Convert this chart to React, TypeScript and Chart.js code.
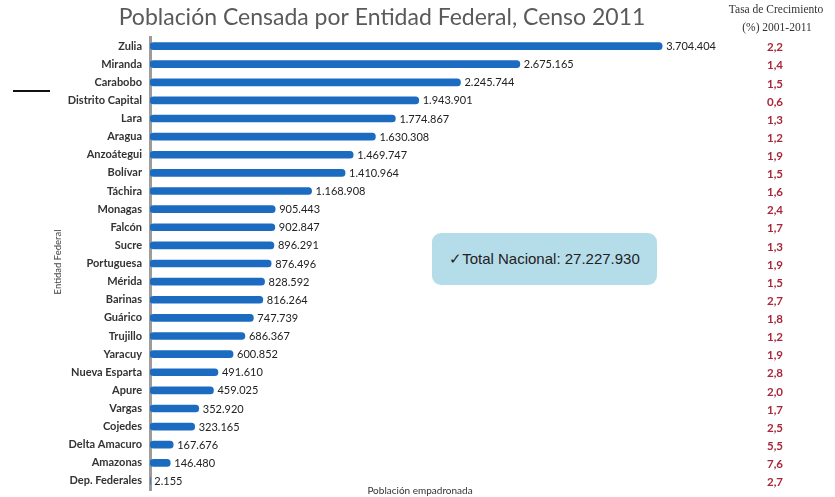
import React, { useEffect, useRef } from "react";
import { Chart, registerables } from "chart.js";

Chart.register(...registerables);

const titleText = "Población Censada por Entidad Federal, Censo 2011";
const growthHeader = ["Tasa de Crecimiento", "(%) 2001-2011"];
const yAxisTitle = "Entidad Federal";
const xAxisTitle = "Población empadronada";
const totalText = "✓Total Nacional: 27.227.930";

const categories = [
  "Zulia", "Miranda", "Carabobo", "Distrito Capital", "Lara", "Aragua",
  "Anzoátegui", "Bolívar", "Táchira", "Monagas", "Falcón", "Sucre",
  "Portuguesa", "Mérida", "Barinas", "Guárico", "Trujillo", "Yaracuy",
  "Nueva Esparta", "Apure", "Vargas", "Cojedes", "Delta Amacuro",
  "Amazonas", "Dep. Federales",
];

const population = [
  3704404, 2675165, 2245744, 1943901, 1774867, 1630308, 1469747, 1410964,
  1168908, 905443, 902847, 896291, 876496, 828592, 816264, 747739, 686367,
  600852, 491610, 459025, 352920, 323165, 167676, 146480, 2155,
];

const growthRates = [
  2.2, 1.4, 1.5, 0.6, 1.3, 1.2, 1.9, 1.5, 1.6, 2.4, 1.7, 1.3, 1.9, 1.5, 2.7,
  1.8, 1.2, 1.9, 2.8, 2.0, 1.7, 2.5, 5.5, 7.6, 2.7,
];

const fmtThousands = (n: number) =>
  String(n).replace(/\B(?=(\d{3})+(?!\d))/g, ".");
const fmtRate = (r: number) => r.toFixed(1).replace(".", ",");

const overlayPlugin = {
  id: "overlay",
  afterDatasetsDraw(chart: any) {
    const ctx = chart.ctx as CanvasRenderingContext2D;
    const meta = chart.getDatasetMeta(0);
    const yScale = chart.scales.y;
    ctx.save();

    // Title
    ctx.font = "23px Lato";
    ctx.fillStyle = "#5a5a5a";
    ctx.textAlign = "center";
    ctx.textBaseline = "middle";
    ctx.fillText(titleText, 382, 18);

    // Growth header
    ctx.font = "11.5px 'Liberation Serif'";
    ctx.fillStyle = "#333";
    ctx.fillText(growthHeader[0], 776, 10);
    ctx.fillText(growthHeader[1], 777, 28);

    // Value labels
    ctx.font = "11px Lato";
    ctx.fillStyle = "#222";
    ctx.textAlign = "left";
    meta.data.forEach((bar: any, i: number) => {
      ctx.fillText(fmtThousands(population[i]), bar.x + 4, bar.y + 0.5);
    });

    // Growth rates
    ctx.font = "bold 11.5px Lato";
    ctx.fillStyle = "#a8283a";
    ctx.textAlign = "center";
    growthRates.forEach((r, i) => {
      ctx.fillText(fmtRate(r), 775, yScale.getPixelForValue(i) + 1.5);
    });

    // Axis titles
    ctx.font = "10px Lato";
    ctx.fillStyle = "#333";
    ctx.fillText(xAxisTitle, 420, 491);
    ctx.save();
    ctx.translate(58, 262);
    ctx.rotate(-Math.PI / 2);
    ctx.font = "9.5px Lato";
    ctx.fillStyle = "#444";
    ctx.fillText(yAxisTitle, 0, 0);
    ctx.restore();

    // Decorative stroke at left
    ctx.strokeStyle = "#111";
    ctx.lineWidth = 2;
    ctx.beginPath();
    ctx.moveTo(13, 91);
    ctx.lineTo(50, 91);
    ctx.stroke();

    ctx.restore();
  },
};

export default function App() {
  const canvasRef = useRef<HTMLCanvasElement | null>(null);

  useEffect(() => {
    if (!canvasRef.current) return;
    const chart = new Chart(canvasRef.current, {
      type: "bar",
      data: {
        labels: categories,
        datasets: [
          {
            data: population,
            backgroundColor: "#1b6cc0",
            borderWidth: 0,
            barThickness: 7,
            borderRadius: 3.5,
            borderSkipped: false,
          },
        ],
      },
      options: {
        indexAxis: "y",
        animation: false,
        responsive: false,
        maintainAspectRatio: false,
        layout: { padding: { top: 37, bottom: 7, left: 0, right: 132 } },
        plugins: {
          legend: { display: false },
          tooltip: { enabled: false },
          title: { display: false },
        },
        scales: {
          x: {
            display: false,
            min: 0,
            max: 4000000,
          },
          y: {
            grid: { display: false, drawTicks: false },
            border: { display: true, color: "#9c9c9c", width: 3 },
            ticks: {
              color: "#333",
              padding: 8,
              font: { family: "Lato", size: 11, weight: "bold" },
              autoSkip: false,
            },
            afterFit: (scale: any) => {
              scale.width = 150;
              scale.paddingTop = 0;
              scale.paddingBottom = 0;
            },
          },
        },
      },
      plugins: [overlayPlugin],
    } as any);
    return () => chart.destroy();
  }, []);

  return (
    <div
      style={{
        position: "fixed",
        left: 0,
        top: 0,
        width: 835,
        height: 497,
        background: "#fff",
      }}
    >
      <canvas
        ref={canvasRef}
        width={835}
        height={497}
        style={{ display: "block", width: 835, height: 497 }}
      />
      <div
        style={{
          position: "absolute",
          left: 432,
          top: 233,
          width: 225,
          height: 52,
          background: "#b5dde9",
          borderRadius: 9,
          display: "flex",
          alignItems: "center",
          justifyContent: "center",
          fontFamily: "'Liberation Sans', Arial, sans-serif",
          fontSize: 15,
          color: "#222",
        }}
      >
        {totalText}
      </div>
    </div>
  );
}
